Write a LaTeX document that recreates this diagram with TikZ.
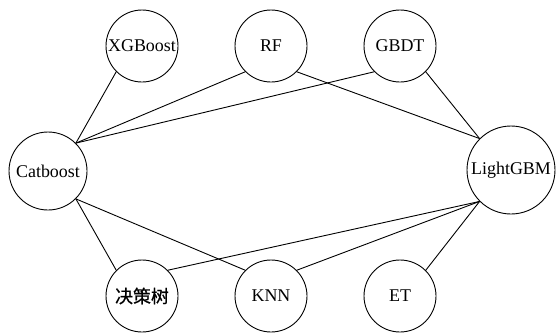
\documentclass[tikz,border=0pt]{standalone}
\usepackage{fontspec}
\setmainfont{Liberation Serif}
\newfontfamily\lbl{Liberation Serif}
\newfontfamily\cjk[FakeBold=0.8]{Noto Sans CJK SC}
\usetikzlibrary{positioning}
\tikzset{
    model/.style={draw, circle, line width=0.9bp, inner sep=0pt, minimum size=72bp,
        font=\lbl\fontsize{18}{20}\selectfont},
    link/.style={line width=0.9bp},
}

\begin{document}
\begin{tikzpicture}[x=1bp, y=1bp]
    \useasboundingbox (0,0) rectangle (556,335);

    % top row
    \node[model] (xgb) at (142,289) {XGBoost};
    \node[model] (rf) at (271,289) {RF};
    \node[model] (gbdt) at (400,289) {GBDT};

    % sides
    \node[model, minimum size=78bp] (cat) at (48,164) {Catboost};
    \node[model, minimum size=88bp] (lgbm) at (511,165) {LightGBM};

    % bottom row
    \node[model] (dt) at (142,39) {\cjk 决策树};
    \node[model] (knn) at (271,39) {KNN};
    \node[model] (et) at (400,39) {ET};

    \draw[link] (cat.north east) -- (xgb.south west);
    \draw[link] (cat.north east) -- (rf.south west);
    \draw[link] (cat.north east) -- (gbdt.south west);
    \draw[link] (cat.south east) -- (dt.north west);
    \draw[link] (cat.south east) -- (knn.north west);

    \draw[link] (lgbm.north west) -- (rf.south east);
    \draw[link] (lgbm.north west) -- (gbdt.south east);
    \draw[link] (lgbm.south west) -- (dt.north east);
    \draw[link] (lgbm.south west) -- (knn.north east);
    \draw[link] (lgbm.south west) -- (et.north east);

\end{tikzpicture}
\end{document}
